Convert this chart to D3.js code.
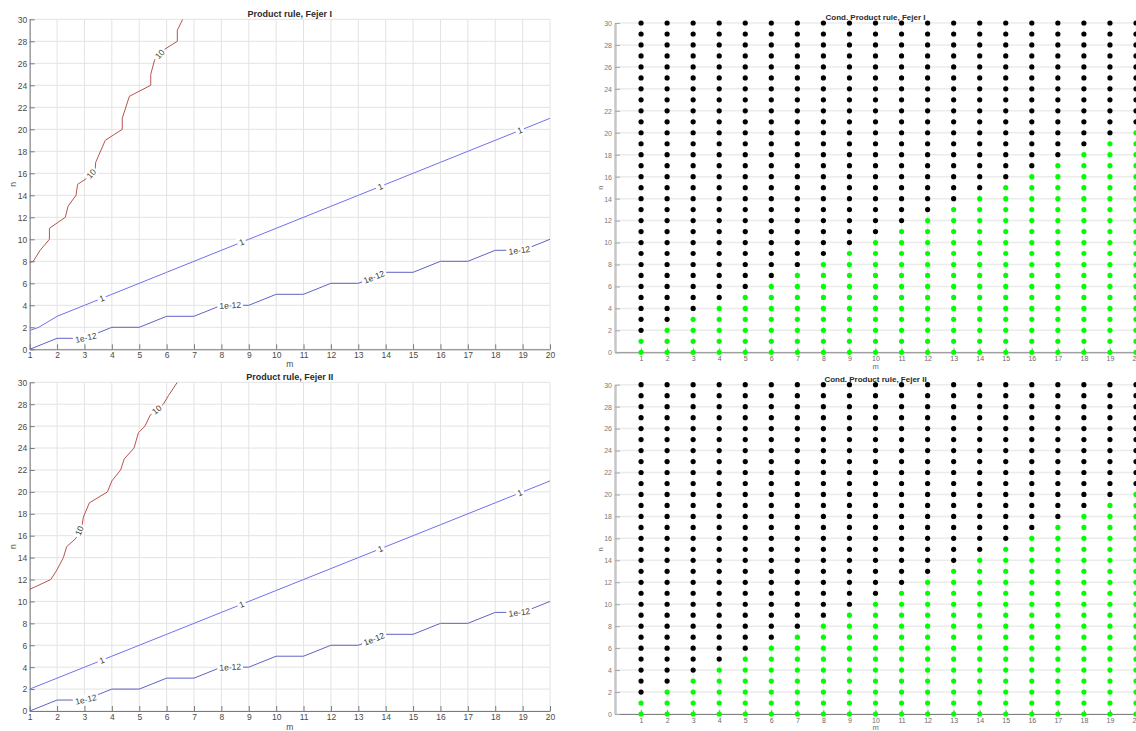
<!DOCTYPE html>
<html><head><meta charset="utf-8">
<script src="https://cdn.jsdelivr.net/npm/d3@7"></script>
<style>
body{margin:0;background:#fff;overflow:hidden;}
svg{display:block;font-family:"Liberation Sans",Arial,Helvetica,sans-serif;}
</style></head><body>
<svg id="chart" width="1136" height="731"></svg>
<script>
// ---------- data ----------
const mTicks = [1,2,3,4,5,6,7,8,9,10,11,12,13,14,15,16,17,18,19,20];
const nTicks = [0,2,4,6,8,10,12,14,16,18,20,22,24,26,28,30];
const nLevels = [0,1,2,3,4,5,6,7,8,9,10,11,12,13,14,15,16,17,18,19,20,21,22,23,24,25,26,27,28,29,30];

// Fejer I contours, [m, n] points
const fejerI_level10 = [[1,7.9],[1.13,8],[1.38,9],[1.72,10],[1.72,11],[2.30,12],[2.40,13],[2.69,14],[2.75,15],[3.06,15.5],[3.39,16.3],[3.41,17],[3.76,19],[4.38,20],[4.38,21],[4.64,23],[5.42,24],[5.42,25],[5.56,26.3],[5.88,27.2],[6.39,28],[6.39,29],[6.59,30]];
const fejerI_level1 = [[1,1.7],[1.33,2],[2,3],[3,4],[4,5],[5,6],[6,7],[7,8],[8,9],[9,10],[10,11],[11,12],[12,13],[13,14],[14,15],[15,16],[16,17],[17,18],[18,19],[19,20],[20,21]];
const fejerI_level1e12_n = [0,1,1,2,2,3,3,4,4,5,5,6,6,7,7,8,8,9,9,10];

// Fejer II contours
const fejerII_level10 = [[1,11.1],[1.77,12],[2.0,12.9],[2.23,14],[2.35,15],[2.69,15.76],[2.92,17.06],[2.96,17.7],[3.18,19],[3.84,20],[4.0,21],[4.32,22],[4.45,23],[4.81,24],[4.97,25.4],[5.21,26],[5.4,27],[5.88,28],[6.07,28.8],[6.39,30]];
const fejerII_level1_n = [2,3,4,5,6,7,8,9,10,11,12,13,14,15,16,17,18,19,20,21];
const fejerII_level1e12_n = [0,1,1,2,2,3,3,4,4,5,5,6,6,7,7,8,8,9,9,10];

// contour label anchors [m, n]
const fejerI_labels10 = [[3.23,16.0],[5.72,26.9]];
const fejerII_labels10 = [[2.81,16.45],[5.64,27.5]];
const labels1 = [[3.63,4.63],[8.74,9.74],[13.8,14.8],[18.9,19.9]];
const labels1e12 = [[3.04,1.15],[8.32,3.94],[13.57,6.6],[18.88,9.12]];

// conditioning: largest n (per m = 1..20) drawn green
const condFejerI_greenMax  = [1,2,3,4,5,6,7,8,9,10,11,12,13,14,15,16,17,18,19,20];
const condFejerII_greenMax = [1,2,3,4,5,6,7,8,9,10,11,12,13,14,15,16,17,18,19,20];

// ---------- drawing ----------
const svg = d3.select("#chart");
const col10 = "#b9524f", col1 = "#7070ee", col12 = "#6262c6";

function polyLen(pts){ const c=[0]; for(let i=1;i<pts.length;i++){ c.push(c[i-1]+Math.hypot(pts[i][0]-pts[i-1][0],pts[i][1]-pts[i-1][1])); } return c; }
function pointAt(pts,cum,s){
  s=Math.max(0,Math.min(cum[cum.length-1],s));
  for(let i=1;i<pts.length;i++){ if(s<=cum[i]){ const seg=cum[i]-cum[i-1]||1; const t=(s-cum[i-1])/seg; return [pts[i-1][0]+t*(pts[i][0]-pts[i-1][0]), pts[i-1][1]+t*(pts[i][1]-pts[i-1][1])]; } }
  return pts[pts.length-1];
}
function nearestS(pts,cum,p){
  let best=1e9,bs=0;
  for(let i=1;i<pts.length;i++){
    const ax=pts[i-1][0],ay=pts[i-1][1],bx=pts[i][0],by=pts[i][1];
    const dx=bx-ax,dy=by-ay,L2=dx*dx+dy*dy||1;
    let t=((p[0]-ax)*dx+(p[1]-ay)*dy)/L2; t=Math.max(0,Math.min(1,t));
    const qx=ax+t*dx,qy=ay+t*dy,d=Math.hypot(p[0]-qx,p[1]-qy);
    if(d<best){best=d;bs=cum[i-1]+t*Math.sqrt(L2);}
  }
  return bs;
}

function contourPanel(o){
  const x = d3.scaleLinear().domain([1,20]).range([o.x0,o.x1]);
  const y = d3.scaleLinear().domain([0,30]).range([o.yBot,o.yTop]);
  const g = svg.append("g");
  g.append("g").selectAll("line").data(mTicks).join("line")
    .attr("x1",d=>x(d)).attr("x2",d=>x(d)).attr("y1",o.yTop).attr("y2",o.yBot)
    .attr("stroke","#e3e3e3").attr("stroke-width",1);
  g.append("g").selectAll("line").data(nTicks).join("line")
    .attr("x1",o.x0).attr("x2",o.x1).attr("y1",d=>y(d)).attr("y2",d=>y(d))
    .attr("stroke","#e3e3e3").attr("stroke-width",1);
  const ax = g.append("g").attr("transform",`translate(0,${o.yBot})`)
    .call(d3.axisBottom(x).tickValues(mTicks).tickSizeInner(-5).tickSizeOuter(0).tickFormat(d3.format("d")));
  ax.selectAll("text").attr("y",o.tickY-o.yBot).attr("dy",0).attr("font-size",8.5).attr("fill","#4a4a4a");
  const ay = g.append("g").attr("transform",`translate(${o.x0},0)`)
    .call(d3.axisLeft(y).tickValues(nTicks).tickSizeInner(-5).tickSizeOuter(0).tickFormat(d3.format("d")));
  ay.selectAll("text").attr("x",-2.5).attr("dy","0.34em").attr("font-size",8.5).attr("fill","#4a4a4a");
  [ax,ay].forEach(a=>{ a.select(".domain").attr("stroke","#7a7a7a"); a.selectAll(".tick line").attr("stroke","#7a7a7a"); a.attr("font-family",null); });
  g.append("text").attr("x",(o.x0+o.x1)/2).attr("y",o.titleY).attr("text-anchor","middle")
    .attr("font-size",9).attr("font-weight","bold").attr("fill","#2b2b2b").text(o.title);
  g.append("text").attr("x",(o.x0+o.x1)/2).attr("y",o.mY).attr("text-anchor","middle")
    .attr("font-size",8.5).attr("fill","#4a4a4a").text("m");
  g.append("text").attr("transform",`translate(${o.nX},${(o.yTop+o.yBot)/2}) rotate(-90)`).attr("text-anchor","middle")
    .attr("dy","0.34em").attr("font-size",8.5).attr("fill","#4a4a4a").text("n");
  const line = d3.line().x(d=>x(d[0])).y(d=>y(d[1]));
  const clipId = "clip"+o.id;
  svg.append("clipPath").attr("id",clipId).append("rect").attr("x",o.x0).attr("y",o.yTop).attr("width",o.x1-o.x0).attr("height",o.yBot-o.yTop);
  const cg = g.append("g").attr("clip-path",`url(#${clipId})`);
  o.lines.forEach(L=>{
    cg.append("path").attr("d",line(L.data)).attr("fill","none").attr("stroke",L.color).attr("stroke-width",1);
  });
  const lg = g.append("g");
  o.lines.forEach(L=>{
    const pts = L.data.map(d=>[x(d[0]),y(d[1])]);
    const cum = polyLen(pts);
    L.labels.forEach(a=>{
      const p=[x(a[0]),y(a[1])];
      const s0=nearestS(pts,cum,p);
      const grp = lg.append("g");
      const t = grp.append("text").attr("text-anchor","middle").attr("dy","0.35em")
        .attr("font-size",8.5).attr("fill","#3c3c3c").text(L.text);
      const w = t.node().getComputedTextLength();
      const c = pointAt(pts,cum,s0);
      const pa = pointAt(pts,cum,s0-w/2-2), pb = pointAt(pts,cum,s0+w/2+2);
      let ang = Math.atan2(pb[1]-pa[1],pb[0]-pa[0])*180/Math.PI;
      if(ang>90) ang-=180; if(ang<-90) ang+=180;
      grp.attr("transform",`translate(${c[0]},${c[1]}) rotate(${ang})`);
      grp.insert("rect","text").attr("x",-w/2-2).attr("y",-5).attr("width",w+4).attr("height",10).attr("fill","#fff");
    });
  });
}

function condPanel(o){
  const x = d3.scaleLinear().domain([0,20]).range([o.x0,o.x1]);
  const y = d3.scaleLinear().domain([0,30]).range([o.yBot,o.yTop]);
  const g = svg.append("g");
  g.append("g").selectAll("line").data(mTicks).join("line")
    .attr("x1",d=>x(d)).attr("x2",d=>x(d)).attr("y1",o.yTop).attr("y2",o.yBot)
    .attr("stroke","#ededed").attr("stroke-width",1);
  g.append("g").selectAll("line").data(nTicks).join("line")
    .attr("x1",o.x0).attr("x2",o.x1).attr("y1",d=>y(d)).attr("y2",d=>y(d))
    .attr("stroke","#ebebeb").attr("stroke-width",1.5);
  const ax = g.append("g").attr("transform",`translate(0,${o.yBot})`)
    .call(d3.axisBottom(x).tickValues(mTicks).tickSizeInner(-4).tickSizeOuter(0).tickFormat(d3.format("d")));
  ax.selectAll("text").attr("y",o.tickY-o.yBot).attr("dy",0).attr("font-size",7).attr("fill","#6a6a6a");
  ax.select(".domain").attr("stroke","#808080");
  ax.selectAll(".tick line").attr("stroke","#9a9a9a");
  const ay = g.append("g").attr("transform",`translate(${o.x0},0)`)
    .call(d3.axisLeft(y).tickValues(nTicks).tickSizeInner(-5).tickSizeOuter(0).tickFormat(d3.format("d")));
  ay.selectAll("text").attr("x",-3).attr("dy","0.34em").attr("font-size",7).attr("fill","#7a7a7a");
  ay.select(".domain").attr("stroke","#c6c6c6").attr("stroke-width",2.5);
  ay.selectAll(".tick line").attr("stroke","#a8a8a8");
  [ax,ay].forEach(a=>a.attr("font-family",null));
  g.append("text").attr("x",(o.x0+o.x1)/2).attr("y",o.titleY).attr("text-anchor","middle")
    .attr("font-size",8).attr("font-weight","bold").attr("fill","#2b2b2b").text(o.title);
  g.append("text").attr("x",(o.x0+o.x1)/2).attr("y",o.mY).attr("text-anchor","middle")
    .attr("font-size",7.5).attr("fill","#6a6a6a").text("m");
  g.append("text").attr("transform",`translate(${o.nX},${(o.yTop+o.yBot)/2}) rotate(-90)`).attr("text-anchor","middle")
    .attr("dy","0.34em").attr("font-size",7.5).attr("fill","#6a6a6a").text("n");
  const pts = [];
  mTicks.forEach((m,i)=>nLevels.forEach(n=>pts.push({m,n,good:n<=o.greenMax[i]})));
  g.append("g").selectAll("circle").data(pts).join("circle")
    .attr("cx",d=>x(d.m)).attr("cy",d=>y(d.n)).attr("r",2.6)
    .attr("fill",d=>d.good?"#00ff00":"#000000");
}

contourPanel({id:"a",x0:29.7,x1:550,yTop:19.3,yBot:349.3,titleY:16.5,tickY:358.3,mY:367.3,nX:12.7,
  title:"Product rule, Fejer I",
  lines:[
    {data:fejerI_level10,color:col10,text:"10",labels:fejerI_labels10},
    {data:fejerI_level1,color:col1,text:"1",labels:labels1},
    {data:mTicks.map((m,i)=>[m,fejerI_level1e12_n[i]]),color:col12,text:"1e-12",labels:labels1e12}
  ]});
contourPanel({id:"b",x0:29.7,x1:550,yTop:382.3,yBot:711,titleY:379.5,tickY:720,mY:729.5,nX:12.7,
  title:"Product rule, Fejer II",
  lines:[
    {data:fejerII_level10,color:col10,text:"10",labels:fejerII_labels10},
    {data:mTicks.map((m,i)=>[m,fejerII_level1_n[i]]),color:col1,text:"1",labels:labels1},
    {data:mTicks.map((m,i)=>[m,fejerII_level1e12_n[i]]),color:col12,text:"1e-12",labels:labels1e12}
  ]});
condPanel({x0:615,x1:1136,yTop:23,yBot:352.3,titleY:19.5,tickY:361,mY:368.7,nX:600,
  title:"Cond. Product rule, Fejer I",greenMax:condFejerI_greenMax});
condPanel({x0:615,x1:1136,yTop:384.7,yBot:714,titleY:382,tickY:722.7,mY:729.5,nX:600,
  title:"Cond. Product rule, Fejer II",greenMax:condFejerII_greenMax});
</script>
</body></html>
